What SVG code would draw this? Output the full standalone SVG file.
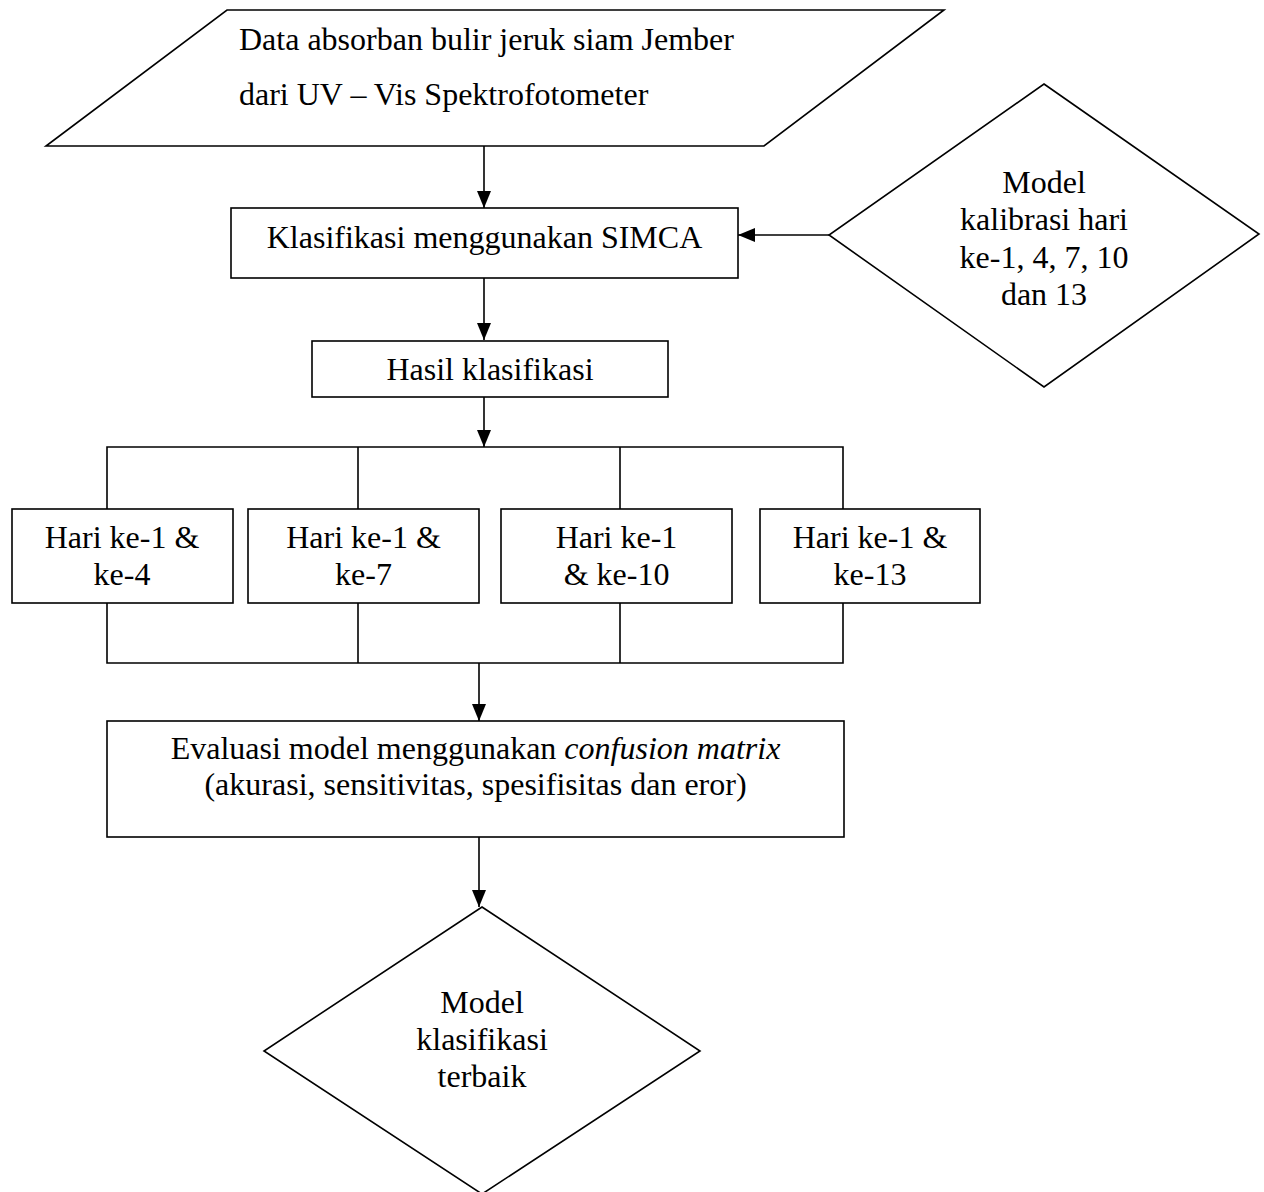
<svg xmlns="http://www.w3.org/2000/svg" width="1264" height="1192" viewBox="0 0 1264 1192">
<style>
.s{fill:#fff;stroke:#000;stroke-width:1.6}
.c{fill:none;stroke:#000;stroke-width:1.6}
text{font-family:"Liberation Serif","Times New Roman",serif;font-size:32px;fill:#000}
.m{text-anchor:middle}
</style>
<defs>
<marker id="ah" markerWidth="17" markerHeight="14" refX="17" refY="7" viewBox="0 0 17 14" markerUnits="userSpaceOnUse" orient="auto">
<path d="M0,0 L17,7 L0,14 Z" fill="#000"/>
</marker>
</defs>
<rect width="1264" height="1192" fill="#fff"/>
<g id="connectors">
<line class="c" x1="484" y1="146" x2="484" y2="208" marker-end="url(#ah)"/>
<line class="c" x1="829" y1="235" x2="738" y2="235" marker-end="url(#ah)"/>
<line class="c" x1="484" y1="278" x2="484" y2="340" marker-end="url(#ah)"/>
<line class="c" x1="484" y1="397" x2="484" y2="447" marker-end="url(#ah)"/>
<polyline class="c" points="107,509 107,447 843,447 843,509"/>
<line class="c" x1="358" y1="447" x2="358" y2="509"/>
<line class="c" x1="620" y1="447" x2="620" y2="509"/>
<polyline class="c" points="107,603 107,663 843,663 843,603"/>
<line class="c" x1="358" y1="603" x2="358" y2="663"/>
<line class="c" x1="620" y1="603" x2="620" y2="663"/>
<line class="c" x1="479" y1="663" x2="479" y2="721" marker-end="url(#ah)"/>
<line class="c" x1="479" y1="837" x2="479" y2="907" marker-end="url(#ah)"/>
</g>
<g id="input-data">
<polygon class="s" points="227,10 944,10 764,146 46,146"/>
<text x="239" y="50">Data absorban bulir jeruk siam Jember</text>
<text x="239" y="105">dari UV – Vis Spektrofotometer</text>
</g>
<g id="klasifikasi-simca">
<rect class="s" x="231" y="208" width="507" height="70"/>
<text class="m" x="484.5" y="248">Klasifikasi menggunakan SIMCA</text>
</g>
<g id="model-kalibrasi">
<polygon class="s" points="1044,84 1259,234 1044,387 829,235"/>
<text class="m" x="1044" y="193">Model</text>
<text class="m" x="1044" y="230">kalibrasi hari</text>
<text class="m" x="1044" y="268">ke-1, 4, 7, 10</text>
<text class="m" x="1044" y="305">dan 13</text>
</g>
<g id="hasil-klasifikasi">
<rect class="s" x="312" y="341" width="356" height="56"/>
<text class="m" x="490" y="380">Hasil klasifikasi</text>
</g>
<g id="hari-1-4">
<rect class="s" x="12" y="509" width="221" height="94"/>
<text class="m" x="122" y="548">Hari ke-1 &amp;</text>
<text class="m" x="122" y="585">ke-4</text>
</g>
<g id="hari-1-7">
<rect class="s" x="248" y="509" width="231" height="94"/>
<text class="m" x="363.5" y="548">Hari ke-1 &amp;</text>
<text class="m" x="363.5" y="585">ke-7</text>
</g>
<g id="hari-1-10">
<rect class="s" x="501" y="509" width="231" height="94"/>
<text class="m" x="616.5" y="548">Hari ke-1</text>
<text class="m" x="616.5" y="585">&amp; ke-10</text>
</g>
<g id="hari-1-13">
<rect class="s" x="760" y="509" width="220" height="94"/>
<text class="m" x="870" y="548">Hari ke-1 &amp;</text>
<text class="m" x="870" y="585">ke-13</text>
</g>
<g id="evaluasi">
<rect class="s" x="107" y="721" width="737" height="116"/>
<text class="m" x="475.5" y="759">Evaluasi model menggunakan <tspan font-style="italic">confusion matrix</tspan></text>
<text class="m" x="475.5" y="795">(akurasi, sensitivitas, spesifisitas dan eror)</text>
</g>
<g id="model-terbaik">
<polygon class="s" points="482,907 700,1051 482,1194 264,1051"/>
<text class="m" x="482" y="1013">Model</text>
<text class="m" x="482" y="1050">klasifikasi</text>
<text class="m" x="482" y="1087">terbaik</text>
</g>
</svg>
